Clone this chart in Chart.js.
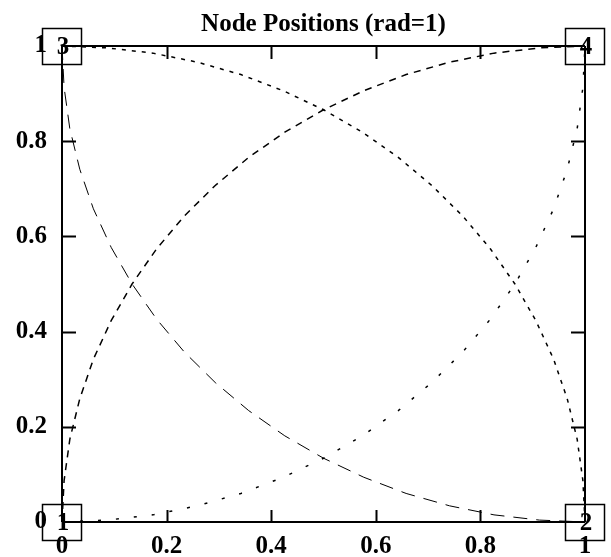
<!DOCTYPE html>
<html>
<head>
<meta charset="utf-8">
<script src="https://cdn.jsdelivr.net/npm/chart.js@4.4.1/dist/chart.umd.min.js"></script>
<style>
  html, body { margin: 0; padding: 0; background: #fff; }
  #wrap { width: 611px; height: 557px; }
</style>
</head>
<body>
<div id="wrap"><canvas id="nodeChart"></canvas></div>
<script>
const nodeX = [0, 1, 0, 1];
const nodeY = [0, 0, 1, 1];
const nodeLabels = ["1", "2", "3", "4"];
const edges = [[0, 1], [0, 2], [2, 3], [1, 3]];
const tickValues = [0.2, 0.4, 0.6, 0.8];

// arcs between the nodes
const arcAX = [0, 0.004, 0.015, 0.034, 0.060, 0.094, 0.134, 0.181, 0.234, 0.293, 0.357, 0.426, 0.500, 0.577, 0.658, 0.741, 0.826, 0.913, 1];
const arcAY = [0, 0.087, 0.174, 0.259, 0.342, 0.423, 0.500, 0.574, 0.643, 0.707, 0.766, 0.819, 0.866, 0.906, 0.940, 0.966, 0.985, 0.996, 1];
const arcBX = [0, 0.004, 0.015, 0.034, 0.060, 0.094, 0.134, 0.181, 0.234, 0.293, 0.357, 0.426, 0.500, 0.577, 0.658, 0.741, 0.826, 0.913, 1];
const arcBY = [1, 0.913, 0.826, 0.741, 0.658, 0.577, 0.500, 0.426, 0.357, 0.293, 0.234, 0.181, 0.134, 0.094, 0.060, 0.034, 0.015, 0.004, 0];
const arcCX = [0, 0.087, 0.174, 0.259, 0.342, 0.423, 0.500, 0.574, 0.643, 0.707, 0.766, 0.819, 0.866, 0.906, 0.940, 0.966, 0.985, 0.996, 1];
const arcCY = [1, 0.996, 0.985, 0.966, 0.940, 0.906, 0.866, 0.819, 0.766, 0.707, 0.643, 0.574, 0.500, 0.423, 0.342, 0.259, 0.174, 0.087, 0];
const arcDX = [0, 0.087, 0.174, 0.259, 0.342, 0.423, 0.500, 0.574, 0.643, 0.707, 0.766, 0.819, 0.866, 0.906, 0.940, 0.966, 0.985, 0.996, 1];
const arcDY = [0, 0.004, 0.015, 0.034, 0.060, 0.094, 0.134, 0.181, 0.234, 0.293, 0.357, 0.426, 0.500, 0.577, 0.658, 0.741, 0.826, 0.913, 1];

const pts = (xs, ys) => xs.map((x, i) => ({ x: x, y: ys[i] }));

function arcSet(xs, ys, dash, width) {
    return {
        data: pts(xs, ys),
        showLine: true,
        borderColor: "#000",
        borderWidth: width,
        borderDash: dash,
        pointRadius: 0,
        tension: 0,
        clip: false
    };
}

const datasets = [
    arcSet(arcAX, arcAY, [7, 6], 1.5),
    arcSet(arcBX, arcBY, [14, 9], 1),
    arcSet(arcCX, arcCY, [4, 6], 1.5),
    arcSet(arcDX, arcDY, [3, 15], 1.5)
];

edges.forEach(([a, b]) => {
    datasets.push({
        data: [{ x: nodeX[a], y: nodeY[a] }, { x: nodeX[b], y: nodeY[b] }],
        showLine: true,
        borderColor: "#000",
        borderWidth: 2,
        pointRadius: 0,
        clip: false
    });
});

const nodePlugin = {
    id: "nodes",
    afterDatasetsDraw(chart) {
        const { ctx, chartArea, scales: { x, y } } = chart;
        ctx.save();
        ctx.strokeStyle = "#000";
        // inward tick marks on all four sides
        ctx.lineWidth = 2;
        ctx.beginPath();
        tickValues.forEach(t => {
            const px = Math.round(x.getPixelForValue(t)) + 0.5;
            ctx.moveTo(px, chartArea.bottom);
            ctx.lineTo(px, chartArea.bottom - 12);
            ctx.moveTo(px, chartArea.top);
            ctx.lineTo(px, chartArea.top + 13);
            const py = Math.round(y.getPixelForValue(t)) + 0.5;
            ctx.moveTo(chartArea.left, py);
            ctx.lineTo(chartArea.left + 14, py);
            ctx.moveTo(chartArea.right, py);
            ctx.lineTo(chartArea.right - 14, py);
        });
        ctx.stroke();

        // node boxes with labels
        ctx.lineWidth = 1.5;
        ctx.font = "bold 25px 'Liberation Serif'";
        ctx.textAlign = "center";
        ctx.textBaseline = "middle";
        ctx.fillStyle = "#000";
        nodeX.forEach((nx, i) => {
            const px = x.getPixelForValue(nx);
            const py = y.getPixelForValue(nodeY[i]);
            ctx.strokeRect(Math.round(px - 20) + 0.5, Math.round(py - 18) + 0.5, 39, 36);
            ctx.fillText(nodeLabels[i], px + 1, py + 2);
        });
        ctx.restore();
    }
};

const fmt = v => String(Math.round(v * 10) / 10);

Chart.defaults.font.family = "'Liberation Serif', serif";
Chart.defaults.color = "#000";

new Chart(document.getElementById("nodeChart"), {
    type: "scatter",
    data: { datasets },
    options: {
        responsive: true,
        maintainAspectRatio: false,
        animation: false,
        events: [],
        layout: { padding: { top: 0, right: 26, bottom: 0, left: 0 } },
        plugins: {
            legend: { display: false },
            tooltip: { enabled: false },
            title: {
                display: true,
                text: "Node Positions (rad=1)",
                fullSize: false,
                color: "#000",
                font: { size: 25, weight: "bold" },
                padding: { top: 10, bottom: 6 }
            }
        },
        scales: {
            x: {
                type: "linear",
                min: 0,
                max: 1,
                grid: { display: false },
                border: { display: false },
                ticks: {
                    stepSize: 0.2,
                    padding: 2,
                    callback: fmt,
                    font: { size: 25, weight: "bold" }
                },
                afterFit: s => { s.height = 35; }
            },
            y: {
                type: "linear",
                min: 0,
                max: 1,
                grid: { display: false },
                border: { display: false },
                ticks: {
                    stepSize: 0.2,
                    padding: 7,
                    callback: fmt,
                    font: { size: 25, weight: "bold" }
                },
                afterFit: s => { s.width = 62; }
            }
        }
    },
    plugins: [nodePlugin]
});
</script>
</body>
</html>
